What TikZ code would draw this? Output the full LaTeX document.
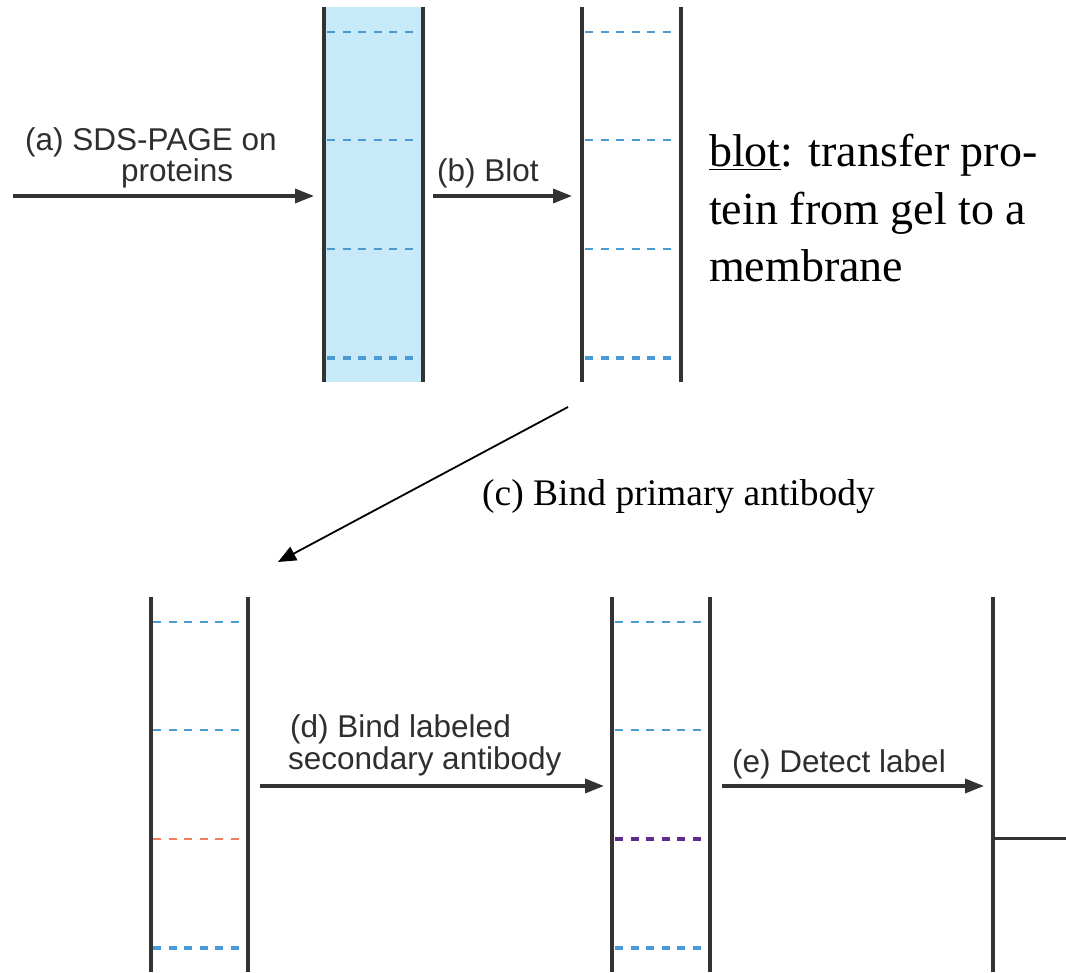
\documentclass[tikz,border=0pt]{standalone}
\usepackage{fontspec}
\setmainfont{Liberation Serif}
\newfontfamily\lsans{Liberation Sans}
\usetikzlibrary{arrows.meta}
\definecolor{gelline}{HTML}{333333}
\definecolor{gelfill}{HTML}{C8E9F8}
\definecolor{bandblue}{HTML}{4A9AD6}
\definecolor{bandorange}{HTML}{F07E5A}
\definecolor{bandpurple}{HTML}{5B2C8F}
\definecolor{arrowgray}{HTML}{333333}
\tikzset{
  gelside/.style={draw=gelline, line width=3.6pt},
  band/.style={line width=2.4pt, dash pattern=on 8pt off 7.5pt},
  bandthick/.style={line width=3.4pt, dash pattern=on 8pt off 7.5pt},
  steparrow/.style={draw=arrowgray, line width=3.4pt, -{Triangle[length=19pt,width=14pt]}},
  thinarrow/.style={draw=black, line width=1.8pt, -{Triangle[length=18pt,width=15pt]}},
  sanslabel/.style={inner sep=0pt, anchor=base west, font=\lsans\fontsize{31.5}{32}\selectfont, text=black!82},
  seriflabel/.style={inner sep=0pt, anchor=base west, font=\fontsize{46}{54}\selectfont},
  cnote/.style={inner sep=0pt, anchor=base west, font=\fontsize{37.5}{44}\selectfont},
}
\begin{document}
\begin{tikzpicture}[x=1pt,y=-1pt]
\useasboundingbox (0,0) rectangle (1066,973);
% gel (SDS-PAGE)
\fill[gelfill] (324,7) rectangle (423,382);
\node[draw=none, minimum width=99pt, minimum height=375pt, inner sep=0pt] (gel) at (373.5,194.5) {};
\draw[gelside] (324,7) -- (324,382);
\draw[gelside] (423,7) -- (423,382);
\foreach \yy in {32,140,249} \draw[band, draw=bandblue] (327,\yy) -- (420,\yy);
\draw[bandthick, draw=bandblue] (327,358) -- (420,358);
% membrane after blot
\node[draw=none, minimum width=99pt, minimum height=375pt, inner sep=0pt] (memb) at (631.5,194.5) {};
\draw[gelside] (582,7) -- (582,382);
\draw[gelside] (681,7) -- (681,382);
\foreach \yy in {32,140,249} \draw[band, draw=bandblue] (585,\yy) -- (676,\yy);
\draw[bandthick, draw=bandblue] (585,358) -- (676,358);
% bottom membrane 1
\node[draw=none, minimum width=97pt, minimum height=375pt, inner sep=0pt] (mA) at (199.5,784.5) {};
\draw[gelside] (151,597) -- (151,972);
\draw[gelside] (248,597) -- (248,972);
\foreach \yy in {622,730} \draw[band, draw=bandblue] (153,\yy) -- (243,\yy);
\draw[band, draw=bandorange] (153,839) -- (243,839);
\draw[bandthick, draw=bandblue] (153,948) -- (243,948);
% bottom membrane 2
\node[draw=none, minimum width=98pt, minimum height=375pt, inner sep=0pt] (mB) at (661,784.5) {};
\draw[gelside] (612,597) -- (612,972);
\draw[gelside] (710,597) -- (710,972);
\foreach \yy in {622,730} \draw[band, draw=bandblue] (615,\yy) -- (704,\yy);
\draw[bandthick, draw=bandpurple] (615,839) -- (704,839);
\draw[bandthick, draw=bandblue] (615,948) -- (704,948);
% detection
\node[draw=none, minimum width=73pt, minimum height=375pt, inner sep=0pt] (det) at (1029.5,784.5) {};
\draw[gelside] (993,597) -- (993,972);
\draw[draw=gelline, line width=3pt] (993,838) -- (1066,838);
% arrow endpoints
\coordinate (a0) at (13,196);
\coordinate (a1) at (314,196);
\coordinate (b0) at (433,196);
\coordinate (b1) at (572,196);
\coordinate (c0) at (568,407);
\coordinate (c1) at (278,562);
\coordinate (d0) at (260,786);
\coordinate (d1) at (604,786);
\coordinate (e0) at (722,786);
\coordinate (e1) at (984,786);
\draw[steparrow] (a0) -- (a1);
\draw[steparrow] (b0) -- (b1);
\draw[thinarrow] (c0) -- (c1);
\draw[steparrow] (d0) -- (d1);
\draw[steparrow] (e0) -- (e1);
% labels
\node[sanslabel] (la1) at (25,151) {(a) SDS-PAGE on};
\node[sanslabel] (la2) at (121,182) {proteins};
\node[sanslabel] (lb) at (437,182) {(b) Blot};
\node[sanslabel] (ld1) at (290,737) {(d) Bind labeled};
\node[sanslabel] (ld2) at (288,769) {secondary antibody};
\node[sanslabel] (le) at (732,772) {(e) Detect label};
\node[cnote] (lc) at (482,505) {(c) Bind primary antibody};
\node[seriflabel] (n1) at (709,167) {\underline{blot}: transfer pro-};
\node[seriflabel] (n2) at (709,225) {tein from gel to a};
\node[seriflabel] (n3) at (709,282) {membrane};
\end{tikzpicture}
\end{document}
